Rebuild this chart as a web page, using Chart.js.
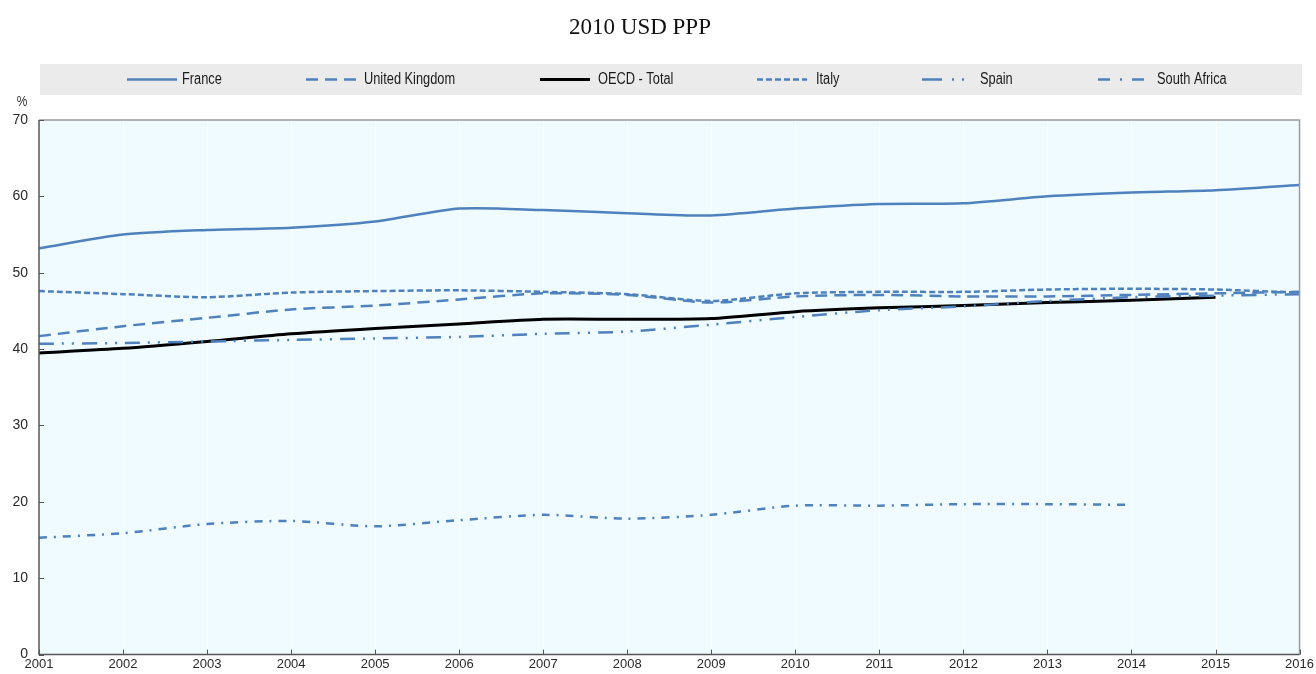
<!DOCTYPE html>
<html>
<head>
<meta charset="utf-8">
<script src="https://cdn.jsdelivr.net/npm/chart.js@4/dist/chart.umd.min.js"></script>
<style>
  html, body { margin: 0; padding: 0; background: #ffffff; }
  canvas { display: block; }
</style>
</head>
<body>
<canvas id="chart" width="1316" height="674"></canvas>
<script>
// 數據
var years = ['2001', '2002', '2003', '2004', '2005', '2006', '2007', '2008',
             '2009', '2010', '2011', '2012', '2013', '2014', '2015', '2016'];
var france = [53.2, 55.0, 55.6, 55.9, 56.7, 58.4, 58.2, 57.8, 57.5, 58.4, 59.0, 59.1, 60.0, 60.5, 60.8, 61.5];
var unitedKingdom = [41.7, 43.0, 44.1, 45.2, 45.7, 46.5, 47.3, 47.1, 46.1, 46.9, 47.1, 46.9, 46.9, 47.1, 47.3, 47.5];
var oecdTotal = [39.5, 40.1, 41.0, 42.0, 42.7, 43.3, 43.9, 43.9, 44.0, 44.9, 45.4, 45.7, 46.1, 46.4, 46.8, null];
var italy = [47.6, 47.2, 46.8, 47.4, 47.6, 47.7, 47.5, 47.2, 46.3, 47.3, 47.5, 47.5, 47.8, 47.9, 47.8, 47.4];
var spain = [40.7, 40.8, 41.0, 41.2, 41.4, 41.6, 42.0, 42.3, 43.2, 44.2, 45.1, 45.6, 46.3, 46.8, 47.0, 47.2];
var southAfrica = [15.3, 15.9, 17.1, 17.5, 16.8, 17.6, 18.3, 17.8, 18.3, 19.5, 19.5, 19.7, 19.7, 19.6, null, null];
var yTicks = [0, 10, 20, 30, 40, 50, 60, 70];

var titleText = '2010 USD PPP';
var unitText = '%';

var blue = '#4f81bd';
var sans = "'Liberation Sans', Arial, sans-serif";

// 圖例位置（每項線段起點、文字間距）
var legendStartX = [127, 306, 540, 757, 922, 1098];
var legendTextGap = [55, 58, 58, 59, 58, 59];
var legendDash = [[], [12, 7], [], [6, 3], [20, 10, 2, 8, 2, 8], [12, 10, 2, 10]];

// 窄字體效果：水平縮放
function narrowText(ctx, text, x, y, sx) {
    ctx.save();
    ctx.translate(x, y);
    ctx.scale(sx, 1);
    ctx.fillText(text, 0, 0);
    ctx.restore();
}

// 背景、標題、圖例、邊框
var framePlugin = {
    id: 'oecdFrame',
    beforeDatasetsDraw: function(chart) {
        var ctx = chart.ctx;
        var area = chart.chartArea;
        ctx.save();
        ctx.fillStyle = '#effbff';
        ctx.fillRect(area.left, area.top, area.right - area.left, area.bottom - area.top);
        // 淡白色的垂直線
        ctx.strokeStyle = 'rgba(255,255,255,0.9)';
        ctx.lineWidth = 1;
        var xs = chart.scales.x;
        years.forEach(function(y, i) {
            var px = Math.round(xs.getPixelForValue(i)) + 0.5;
            ctx.beginPath();
            ctx.moveTo(px, area.top);
            ctx.lineTo(px, area.bottom);
            ctx.stroke();
        });
        ctx.restore();
    },
    afterDraw: function(chart) {
        var ctx = chart.ctx;
        var area = chart.chartArea;
        ctx.save();

        // 標題
        ctx.fillStyle = '#111';
        ctx.font = "23px 'Liberation Serif', 'Times New Roman', serif";
        ctx.textAlign = 'center';
        ctx.textBaseline = 'alphabetic';
        ctx.fillText(titleText, 640, 34);

        // 圖例背景
        ctx.fillStyle = '#ebebeb';
        ctx.fillRect(40, 64, 1262, 31);

        // 圖例項目
        ctx.font = '16px ' + sans;
        ctx.textAlign = 'left';
        ctx.textBaseline = 'middle';
        chart.data.datasets.forEach(function(ds, i) {
            var x0 = legendStartX[i];
            ctx.save();
            ctx.strokeStyle = ds.borderColor;
            ctx.lineWidth = ds.borderWidth;
            ctx.setLineDash(legendDash[i]);
            ctx.beginPath();
            ctx.moveTo(x0, 79.5);
            ctx.lineTo(x0 + 50, 79.5);
            ctx.stroke();
            ctx.restore();
            ctx.fillStyle = '#1a1a1a';
            narrowText(ctx, ds.label, x0 + legendTextGap[i], 80, 0.8);
        });

        // 單位
        ctx.font = '14px ' + sans;
        ctx.fillStyle = '#333';
        ctx.textAlign = 'center';
        narrowText(ctx, unitText, 22, 102, 0.85);

        // 邊框
        ctx.lineWidth = 1.5;
        ctx.strokeStyle = '#9a9a9a';
        ctx.beginPath();
        ctx.moveTo(area.left, area.top);
        ctx.lineTo(area.right, area.top);
        ctx.lineTo(area.right, area.bottom);
        ctx.stroke();
        ctx.strokeStyle = '#555';
        ctx.beginPath();
        ctx.moveTo(area.left, area.top);
        ctx.lineTo(area.left, area.bottom);
        ctx.lineTo(area.right, area.bottom);
        ctx.stroke();

        // 向內的刻度
        ctx.lineWidth = 1;
        var ys = chart.scales.y;
        yTicks.forEach(function(v) {
            var py = Math.round(ys.getPixelForValue(v)) + 0.5;
            ctx.beginPath();
            ctx.moveTo(area.left, py);
            ctx.lineTo(area.left + 5, py);
            ctx.stroke();
        });
        var xs = chart.scales.x;
        years.forEach(function(y, i) {
            var px = Math.round(xs.getPixelForValue(i)) + 0.5;
            ctx.beginPath();
            ctx.moveTo(px, area.bottom);
            ctx.lineTo(px, area.bottom - 5);
            ctx.stroke();
        });
        ctx.restore();
    }
};

function makeSeries(label, data, color, dash, width, order) {
    return {
        label: label,
        data: data,
        borderColor: color,
        backgroundColor: color,
        borderDash: dash,
        borderWidth: width,
        pointRadius: 0,
        fill: false,
        tension: 0.25,
        order: order
    };
}

var ctx = document.getElementById('chart').getContext('2d');
var chart = new Chart(ctx, {
    type: 'line',
    data: {
        labels: years,
        datasets: [
            makeSeries('France', france, blue, [], 2.5, 0),
            makeSeries('United Kingdom', unitedKingdom, blue, [12, 7], 2.5, 0),
            makeSeries('OECD - Total', oecdTotal, '#000000', [], 3, 1),
            makeSeries('Italy', italy, blue, [6, 3], 2.5, 0),
            makeSeries('Spain', spain, blue, [15, 8, 2, 8, 2, 8], 2.5, 0),
            makeSeries('South Africa', southAfrica, blue, [8, 7, 2, 7], 2.5, 0)
        ]
    },
    options: {
        responsive: false,
        animation: false,
        layout: { padding: { top: 120, right: 16, left: 0, bottom: 0 } },
        plugins: {
            legend: { display: false },
            tooltip: { enabled: false }
        },
        scales: {
            x: {
                grid: { display: false, drawTicks: false },
                border: { display: false },
                ticks: {
                    padding: 2,
                    autoSkip: false,
                    maxRotation: 0,
                    color: '#2a2a2a',
                    font: { family: sans, size: 13 }
                },
                afterFit: function(scale) { scale.height = 18; }
            },
            y: {
                min: 0,
                max: 70,
                grid: { display: false, drawTicks: false },
                border: { display: false },
                ticks: {
                    stepSize: 10,
                    padding: 11,
                    color: '#2a2a2a',
                    font: { family: sans, size: 14 }
                },
                afterFit: function(scale) { scale.width = 39; }
            }
        }
    },
    plugins: [framePlugin]
});
</script>
</body>
</html>
